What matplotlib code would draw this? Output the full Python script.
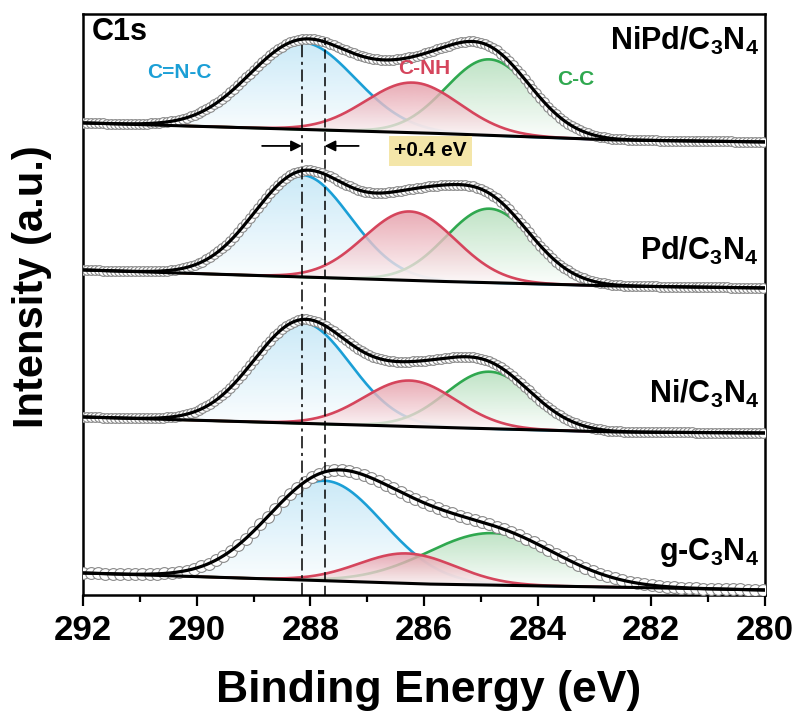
import numpy as np
import matplotlib
matplotlib.use('Agg')
import matplotlib.pyplot as plt
from matplotlib.patches import Polygon
from matplotlib.colors import to_rgb

plt.rcParams['font.family'] = ['Liberation Sans', 'DejaVu Sans']
plt.rcParams['font.weight'] = 'bold'
plt.rcParams['mathtext.fontset'] = 'custom'
plt.rcParams['mathtext.rm'] = 'Liberation Sans:bold'
plt.rcParams['mathtext.it'] = 'Liberation Sans:bold'
plt.rcParams['mathtext.bf'] = 'Liberation Sans:bold'

# C1s spectra, top to bottom
samples = ['NiPd/C$_3$N$_4$', 'Pd/C$_3$N$_4$', 'Ni/C$_3$N$_4$', 'g-C$_3$N$_4$']

# background (Shirley-like) knots, stacked intensity
bg_knots = [292.0, 286.0, 282.7, 280.0]
bg_levels = [[472, 462, 455, 453],
             [325, 314, 309, 307],
             [178, 168, 163, 162],
             [22, 11, 8, 5]]

# fitted components: centre (eV), height, FWHM (eV)
cnc_center = [288.15, 288.15, 288.15, 287.75]
cnc_height = [87, 102, 101, 100]
cnc_fwhm = [2.2, 2.0, 2.0, 2.4]

cnh_center = [286.2, 286.25, 286.25, 286.3]
cnh_height = [50, 69, 46, 30]
cnh_fwhm = [1.95, 1.9, 1.9, 2.0]

cc_center = [284.85, 284.85, 284.85, 284.8]
cc_height = [76, 74, 57, 52]
cc_fwhm = [1.8, 1.8, 1.8, 2.7]

# C=N-C position in g-C3N4 and the shift after metal loading
peak_ref = 287.75
peak_shift = 0.4

blue = '#1b9fd6'
red = '#d5455c'
green = '#2fa84f'
blue_fill = '#bfe5f6'
red_fill = '#e497a3'
green_fill = '#b0ddb8'


def gauss(x, c, h, fwhm):
    s = fwhm / 2.3548
    return h * np.exp(-(x - c) ** 2 / (2 * s ** 2))


def gradient_fill(ax, x, base, top, color, z):
    verts = np.column_stack([np.r_[x, x[::-1]], np.r_[top, base[::-1]]])
    patch = Polygon(verts, closed=True, facecolor='none', edgecolor='none')
    ax.add_patch(patch)
    frac = np.linspace(0, 1, 256)[:, None]
    rgb = np.array(to_rgb(color))
    img = np.zeros((256, 1, 4))
    img[..., :3] = (1 - frac[..., None]) * 1.0 + frac[..., None] * rgb
    img[..., 3] = 0.8
    im = ax.imshow(img, extent=[x.min(), x.max(), base.min(), top.max()],
                   origin='lower', aspect='auto', zorder=z, interpolation='bilinear')
    im.set_clip_path(patch)


fig = plt.figure(figsize=(8, 7.13), dpi=100)
ax = fig.add_axes([0.104, 0.1655, 0.852, 0.815])

x = np.linspace(292, 280, 800)
bg_x = bg_knots[::-1]

for i, name in enumerate(samples):
    bg = np.interp(x, bg_x, bg_levels[i][::-1])
    g1 = gauss(x, cnc_center[i], cnc_height[i], cnc_fwhm[i])
    g2 = gauss(x, cnh_center[i], cnh_height[i], cnh_fwhm[i])
    g3 = gauss(x, cc_center[i], cc_height[i], cc_fwhm[i])

    # fills are layered so later fills wash out earlier tails
    gradient_fill(ax, x, bg, bg + g1, blue_fill, 2.0)
    ax.plot(x, bg + g1, color=blue, lw=1.9, zorder=2.1)
    gradient_fill(ax, x, bg, bg + g3, green_fill, 2.2)
    ax.plot(x, bg + g3, color=green, lw=1.9, zorder=2.3)
    gradient_fill(ax, x, bg, bg + g2, red_fill, 2.4)
    ax.plot(x, bg + g2, color=red, lw=1.9, zorder=2.5)

    # measured points on the envelope
    step, ms = (0.07, 7) if i < 3 else (0.13, 8.5)
    xd = np.arange(292, 279.99, -step)
    bgd = np.interp(xd, bg_x, bg_levels[i][::-1])
    yd = bgd + gauss(xd, cnc_center[i], cnc_height[i], cnc_fwhm[i]) \
        + gauss(xd, cnh_center[i], cnh_height[i], cnh_fwhm[i]) \
        + gauss(xd, cc_center[i], cc_height[i], cc_fwhm[i])
    ax.plot(xd, yd, 'o', ms=ms, mfc='white', mec='#8a8a8a', mew=0.8,
            ls='none', zorder=3)

    ax.plot(x, bg, color='black', lw=2.2, zorder=4)
    ax.plot(x, bg + g1 + g2 + g3, color='black', lw=2.3, zorder=4.1)

# sample names
for name, yb in zip(samples, [545, 335, 192, 35]):
    ax.text(280.1, yb, name, ha='right', va='baseline', fontsize=22,
            fontweight='bold', zorder=6)

# peak position markers
ax.vlines(peak_ref + peak_shift, 0, 557, colors='black', lw=1.1,
          linestyles=(0, (8, 3, 2, 3)), zorder=5)
ax.vlines(peak_ref, 0, 557, colors='black', lw=1.1,
          linestyles=(0, (6, 3)), zorder=5)
ax.annotate('', xy=(peak_ref + peak_shift, 449), xytext=(288.85, 449),
            arrowprops=dict(arrowstyle='-|>', color='black', lw=1.3,
                            mutation_scale=16, shrinkA=0, shrinkB=0))
ax.annotate('', xy=(peak_ref, 449), xytext=(287.15, 449),
            arrowprops=dict(arrowstyle='-|>', color='black', lw=1.3,
                            mutation_scale=16, shrinkA=0, shrinkB=0))
ax.text(285.89, 444, f'+{peak_shift:.1f} eV', ha='center', va='center',
        fontsize=15, fontweight='bold', zorder=6,
        bbox=dict(boxstyle='square,pad=0.25', facecolor='#f4e6a9', edgecolor='none'))

# component labels
ax.text(290.31, 522, 'C=N-C', color=blue, ha='center', va='center', fontsize=15, fontweight='bold')
ax.text(286.0, 526, 'C-NH', color=red, ha='center', va='center', fontsize=15, fontweight='bold')
ax.text(283.33, 515, 'C-C', color=green, ha='center', va='center', fontsize=15, fontweight='bold')
ax.text(291.85, 578, 'C1s', ha='left', va='top', fontsize=22, fontweight='bold')

ax.set_xlim(292, 280)
ax.set_ylim(0, 581)
ax.set_xticks(np.arange(292, 279, -2))
ax.set_xticks(np.arange(291, 280, -2), minor=True)
ax.set_yticks([])
ax.tick_params(axis='x', which='major', length=8, width=1.6, labelsize=25, pad=6)
ax.tick_params(axis='x', which='minor', length=5, width=1.6)
for sp in ax.spines.values():
    sp.set_linewidth(1.8)

ax.set_xlabel('Binding Energy (eV)', fontsize=32, fontweight='bold')
ax.xaxis.set_label_coords(0.507, -0.129)
ax.set_ylabel('Intensity (a.u.)', fontsize=30, fontweight='bold')
ax.yaxis.set_label_coords(-0.046, 0.53)

fig.savefig('out.png', dpi=100)
